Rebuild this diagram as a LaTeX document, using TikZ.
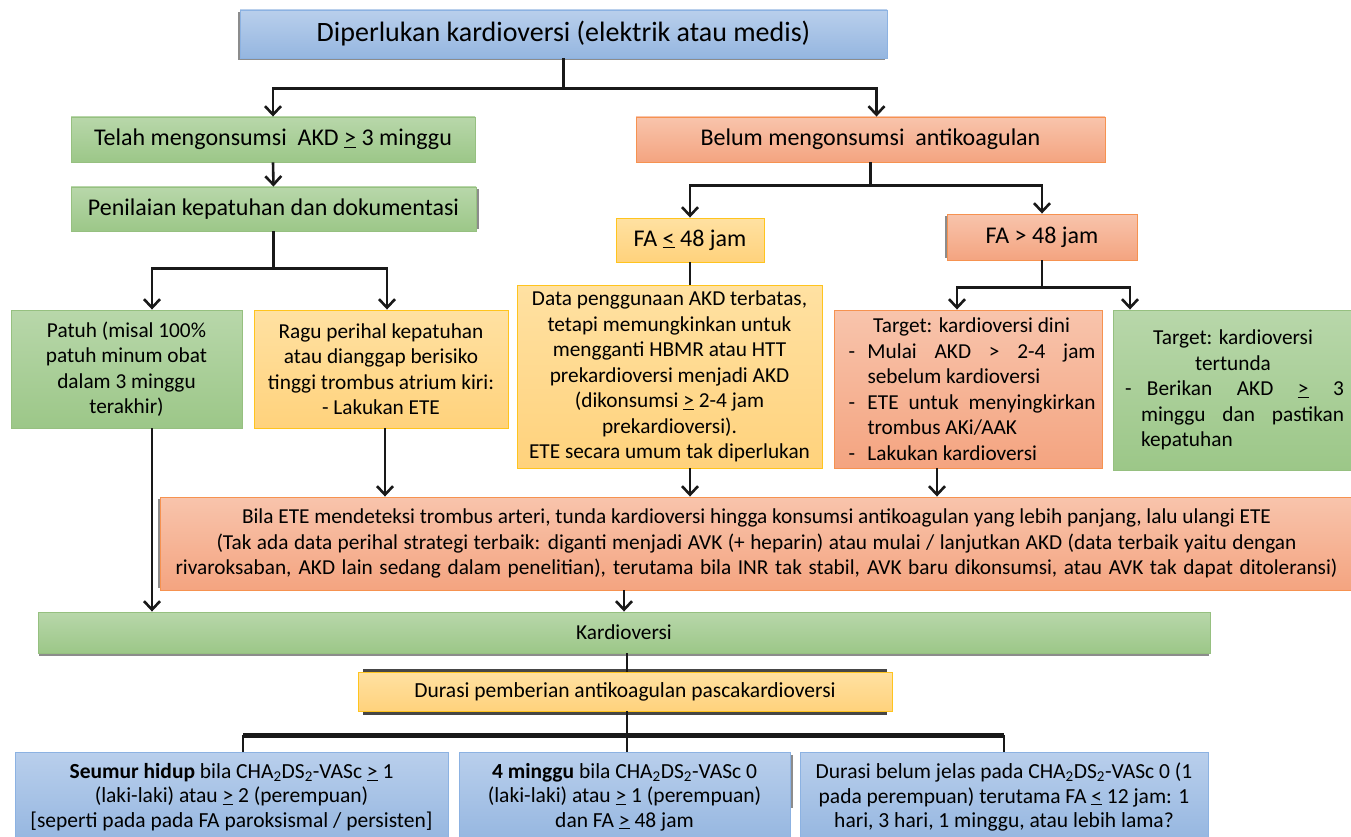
\documentclass[tikz,border=0pt]{standalone}
\usepackage{fontspec}
\setmainfont{Carlito}
\usetikzlibrary{arrows.meta,calc}

\definecolor{blueT}{RGB}{185,207,236}
\definecolor{blueB}{RGB}{149,182,224}
\definecolor{blueL}{RGB}{140,178,226}
\definecolor{greenT}{RGB}{184,215,170}
\definecolor{greenB}{RGB}{156,199,136}
\definecolor{greenL}{RGB}{150,192,128}
\definecolor{salT}{RGB}{248,196,172}
\definecolor{salB}{RGB}{244,164,128}
\definecolor{salL}{RGB}{246,146,80}
\definecolor{yelT}{RGB}{255,225,162}
\definecolor{yelB}{RGB}{255,210,124}
\definecolor{yelL}{RGB}{255,196,30}
\definecolor{shadowgray}{RGB}{140,140,140}

% underlined relation signs as typed in the source document
\newcommand{\gequ}{\underline{>}}
\newcommand{\lequ}{\underline{<}}

\tikzset{
  box/.style={draw, line width=0.9pt, inner sep=0pt, align=center, text=black},
  bluebox/.style={box, draw=blueL, top color=blueT, bottom color=blueB},
  greenbox/.style={box, draw=greenL, top color=greenT, bottom color=greenB},
  salbox/.style={box, draw=salL, top color=salT, bottom color=salB},
  yelbox/.style={box, draw=yelL, top color=yelT, bottom color=yelB},
  dims/.style 2 args={minimum width=#1pt, minimum height=#2pt},
  bigtxt/.style={font=\fontsize{28}{33}\selectfont},
  midtxt/.style={font=\fontsize{24}{29}\selectfont},
  smalltxt/.style={font=\fontsize{21.3}{25.5}\selectfont},
  bottxt/.style={font=\fontsize{21.5}{24.5}\selectfont},
  conn/.style={line width=2.6pt, draw=black!90, line join=miter},
  arr/.style={conn, -{Straight Barb[length=8.5pt,width=16pt]}},
  shade box/.style={fill=shadowgray}
}

\begin{document}
\begin{tikzpicture}[x=1pt,y=-1pt]
\useasboundingbox (0,0) rectangle (1351,837);

% soft shadows behind some boxes
\fill[shade box] (238,12) rectangle (885,60.5);
\fill[shade box] (73,189) rectangle (478.5,229);
\fill[shade box] (944.5,216) rectangle (1135,258);
\fill[shade box] (157.5,499) rectangle (1353,588);
\fill[shade box] (39,613) rectangle (1209,655.5);
\fill[shadowgray!50!black] (363,668.5) rectangle (887,714.5);
\fill[shade box] (461,755) rectangle (792.5,808);

% boxes
\node[bluebox, bigtxt, dims={647}{48}] (top) at (563.5,34) {Diperlukan kardioversi (elektrik atau medis)};

\node[greenbox, midtxt, dims={404}{45}] (telah) at (273,139.5) {Telah mengonsumsi\ \ AKD \gequ\ 3 minggu};
\node[salbox, midtxt, dims={469}{45}] (belum) at (870.5,139.5) {Belum mengonsumsi\ \ antikoagulan};

\node[greenbox, midtxt, dims={405}{44}] (pen) at (273.5,209) {Penilaian\ kepatuhan\ dan dokumentasi};

\node[yelbox, midtxt, dims={148}{44}] (fa1) at (690,240) {FA \lequ\ 48 jam};
\node[salbox, midtxt, dims={190}{46}] (fa2) at (1042,237) {FA > 48 jam};

\node[greenbox, smalltxt, dims={231}{118}] (patuh) at (126.5,369)
  {Patuh (misal 100\%\\patuh minum obat\\dalam 3 minggu\\terakhir)};
\node[yelbox, smalltxt, dims={254}{118}] (ragu) at (381,369)
  {Ragu perihal kepatuhan\\atau dianggap berisiko\\tinggi trombus atrium kiri:\\- Lakukan ETE};
\node[yelbox, smalltxt, dims={305}{183}] (data) at (669.5,376.5)
  {Data penggunaan\ AKD terbatas,\\tetapi memungkinkan untuk\\mengganti HBMR atau HTT\\prekardioversi menjadi AKD\\(dikonsumsi \gequ\ 2-4 jam\\prekardioversi).\\ETE secara umum tak diperlukan};

\node[salbox, smalltxt, dims={268}{158}] (dini) at (968,389)
  {\hspace*{7pt}\begin{minipage}{248pt}
   {\centering Target: kardioversi dini\par}
   \noindent\hangindent=20pt\hangafter=1\makebox[20pt][l]{\hspace{1pt}-}Mulai AKD > 2-4 jam\linebreak sebelum kardioversi\par
   \noindent\hangindent=20pt\hangafter=1\makebox[20pt][l]{\hspace{1pt}-}ETE untuk menyingkirkan\linebreak trombus AKi/AAK\par
   \noindent\hangindent=20pt\hangafter=1\makebox[20pt][l]{\hspace{1pt}-}Lakukan kardioversi\par
   \end{minipage}};

\node[greenbox, smalltxt, dims={240}{160}] (tunda) at (1233,390)
  {\begin{minipage}{222pt}
   {\centering Target: kardioversi\\tertunda\par}
   \noindent\hangindent=19pt\hangafter=1\makebox[19pt][l]{\hspace{3pt}-}\hspace{6pt}Berikan AKD \gequ\ 3\linebreak minggu dan pastikan\linebreak kepatuhan\par
   \end{minipage}};

\node[salbox, smalltxt, dims={1193}{93}] (bila) at (756.5,543.5)
  {Bila ETE mendeteksi trombus arteri, tunda kardioversi hingga konsumsi antikoagulan yang lebih panjang, lalu ulangi ETE\\
   \makebox[1080pt][s]{(Tak ada data perihal strategi terbaik: diganti menjadi AVK (+ heparin) atau mulai / lanjutkan AKD (data terbaik yaitu dengan}\\
   \makebox[1162pt][s]{rivaroksaban, AKD lain sedang dalam penelitian), terutama bila INR tak stabil, AVK baru dikonsumsi,\ atau AVK tak dapat ditoleransi)}};

\node[greenbox, smalltxt, dims={1172}{41}] (kard) at (624,632.5) {Kardioversi};
\node[yelbox, bottxt, dims={534}{39}] (dur) at (625,691.5) {Durasi pemberian antikoagulan pascakardioversi};

\node[bluebox, bottxt, dims={433}{90}] (b1) at (231.5,797)
  {\textbf{Seumur hidup} bila CHA\textsubscript{2}DS\textsubscript{2}-VASc \gequ\ 1\\(laki-laki) atau \gequ\ 2 (perempuan)\\{[}seperti pada pada FA paroksismal / persisten{]}};
\node[bluebox, bottxt, dims={331}{90}] (b2) at (624.5,797)
  {\textbf{4 minggu} bila CHA\textsubscript{2}DS\textsubscript{2}-VASc 0\\(laki-laki) atau \gequ\ 1 (perempuan)\\dan FA \gequ\ 48 jam};
\node[bluebox, bottxt, dims={408}{90}] (b3) at (1004,797)
  {Durasi belum jelas pada CHA\textsubscript{2}DS\textsubscript{2}-VASc 0 (1\\pada perempuan) terutama FA \lequ\ 12 jam: 1\\hari, 3 hari, 1 minggu, atau lebih lama?};

% helper points on box edges
\coordinate (belumIn) at ([xshift=6pt]belum.north);
\coordinate (patuhIn) at ([xshift=25.5pt]patuh.north);
\coordinate (patuhOut) at ([xshift=25.5pt]patuh.south);
\coordinate (raguIn) at ([xshift=6pt]ragu.north);
\coordinate (raguOut) at ([xshift=4pt]ragu.south);
\coordinate (diniIn) at ([xshift=-11pt]dini.north);
\coordinate (diniOut) at ([xshift=-31pt]dini.south);
\coordinate (tundaIn) at ([xshift=-103pt]tunda.north);
\coordinate (b1In) at ([xshift=11.5pt]b1.north);
\coordinate (durOut) at ([xshift=2pt]dur.south);

% connectors
\draw[conn] (top.south) -- ++(0,30) coordinate (j1);
\draw[arr] (j1) -| (telah.north);
\draw[arr] (j1) -| (belumIn);

\draw[arr] (telah.south) -- (pen.north);
\draw[conn] (pen.south) -- ++(0,37) coordinate (j2);
\draw[arr] (j2) -| (patuhIn);
\draw[arr] (j2) -| (raguIn);

\draw[conn] (belum.south) -- ++(0,23) coordinate (j3);
\draw[arr] (j3) -| (fa1.north);
\draw[arr] (j3) -| (fa2.north);

\draw[conn] (fa1.south) -- (data.north -| fa1.south);
\draw[conn] (fa2.south) -- ++(0,27) coordinate (j4);
\draw[arr] (j4) -| (diniIn);
\draw[arr] (j4) -| (tundaIn);

\draw[arr] (raguOut) -- (raguOut |- bila.north);
\draw[arr] (data.south -| fa1.south) -- (bila.north -| fa1.south);
\draw[arr] (diniOut) -- (diniOut |- bila.north);

\draw[arr] (patuhOut) -- (patuhOut |- kard.north);
\draw[arr] (bila.south -| kard.north) -- (kard.north);

\draw[conn] (kard.south -| durOut) -- (dur.north -| durOut);
\draw[conn] (durOut) -- ++(0,24) coordinate (j5);
\draw[conn, line width=4.5pt] (j5 -| b1In) -- (j5 -| b3.north);
\draw[conn] (j5 -| b1In) -- (b1In);
\draw[conn] (j5) -- (j5 |- b2.north);
\draw[conn] (j5 -| b3.north) -- (b3.north);
\end{tikzpicture}
\end{document}
